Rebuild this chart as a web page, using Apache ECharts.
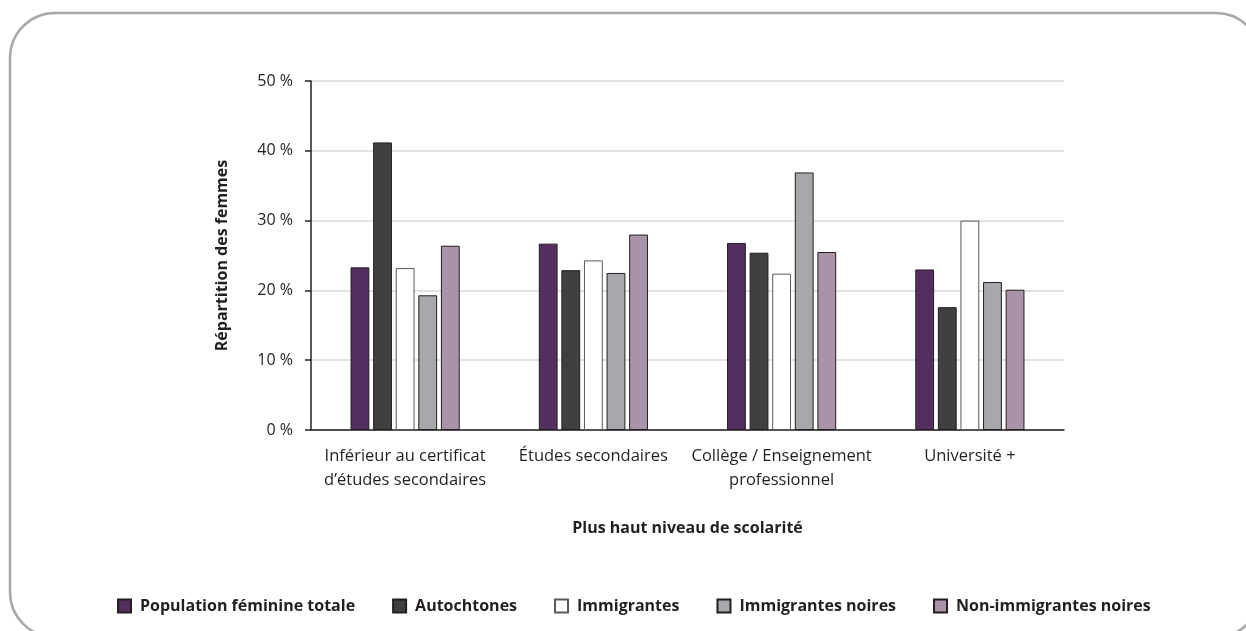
<!DOCTYPE html>
<html>
<head>
<meta charset="utf-8">
<script src="https://cdn.jsdelivr.net/npm/echarts@6/dist/echarts.min.js"></script>
<style>
  html, body { margin: 0; padding: 0; background: #ffffff; }
  #chart { width: 1246px; height: 631px; }
</style>
</head>
<body>
<div id="chart"></div>
<script>
// Niveaux de scolarité (axe des catégories)
const categories = [
  "Inférieur au certificat\nd’études secondaires",
  "Études secondaires",
  "Collège / Enseignement\nprofessionnel",
  "Université +"
];

// Répartition des femmes (%) par groupe
const populationFeminineTotale = [23.3, 26.7, 26.8, 23.0];
const autochtones = [41.2, 22.9, 25.4, 17.6];
const immigrantes = [23.2, 24.3, 22.4, 30.0];
const immigrantesNoires = [19.3, 22.5, 36.9, 21.2];
const nonImmigrantesNoires = [26.4, 28.0, 25.5, 20.1];

const seriesNames = [
  "Population féminine totale",
  "Autochtones",
  "Immigrantes",
  "Immigrantes noires",
  "Non-immigrantes noires"
];
const seriesValues = [
  populationFeminineTotale,
  autochtones,
  immigrantes,
  immigrantesNoires,
  nonImmigrantesNoires
];
const yTicks = [0, 10, 20, 30, 40, 50];

const fills = ["#552e60", "#404040", "#ffffff", "#a7a8ab", "#a993a8"];
const borders = ["#231f20", "#231f20", "#58595b", "#231f20", "#231f20"];

const FONT = "Open Sans";
const INK = "#231f20";

const chart = echarts.init(document.getElementById("chart"), null, { renderer: "canvas" });

const series = seriesNames.map((name, i) => ({
  name: name,
  type: "bar",
  data: seriesValues[i],
  barGap: "20%",
  barCategoryGap: "42%",
  itemStyle: { color: fills[i], borderColor: borders[i], borderWidth: 1 },
  emphasis: { disabled: true }
}));

chart.setOption({
  animation: false,
  backgroundColor: "#ffffff",
  textStyle: { fontFamily: FONT },
  graphic: [{
    type: "rect",
    silent: true,
    z: -1,
    shape: { x: 10, y: 13, width: 1251, height: 624, r: 45 },
    style: { fill: "none", stroke: "#a7a8ab", lineWidth: 2.5 }
  }],
  grid: { left: 311, right: 182, top: 81, bottom: 201, containLabel: false },
  legend: {
    data: seriesNames,
    left: 117,
    top: 598,
    padding: 0,
    itemWidth: 13,
    itemHeight: 13,
    itemGap: 37,
    icon: "rect",
    textStyle: { fontFamily: FONT, fontWeight: "bold", fontSize: 16, color: INK, padding: [0, 0, 0, 4] },
    selectedMode: false
  },
  xAxis: {
    type: "category",
    data: categories,
    name: "Plus haut niveau de scolarité",
    nameLocation: "middle",
    nameGap: 90,
    nameTextStyle: { fontFamily: FONT, fontWeight: "bold", fontSize: 16, color: INK },
    axisLine: { lineStyle: { color: INK, width: 1.5 } },
    axisTick: { interval: 0, length: 6, lineStyle: { color: INK, width: 1.5 } },
    axisLabel: {
      interval: 0,
      fontFamily: FONT, fontSize: 16.5, color: INK, lineHeight: 24, margin: 14
    },
    splitLine: { show: false }
  },
  yAxis: {
    type: "value",
    min: yTicks[0],
    max: yTicks[yTicks.length - 1],
    interval: 10,
    name: "Répartition des femmes",
    nameLocation: "middle",
    nameGap: 81,
    nameRotate: 90,
    nameTextStyle: { fontFamily: FONT, fontWeight: "bold", fontSize: 16, color: INK },
    axisLine: { show: true, lineStyle: { color: INK, width: 1.5 } },
    axisTick: { show: true, inside: false, length: 6, lineStyle: { color: INK, width: 1.5 } },
    axisLabel: {
      fontFamily: FONT, fontSize: 16, color: INK, margin: 18,
      formatter: v => v + " %"
    },
    splitLine: { lineStyle: { color: "#d9d9d9", width: 1.5 } }
  },
  series: series
});
</script>
</body>
</html>
